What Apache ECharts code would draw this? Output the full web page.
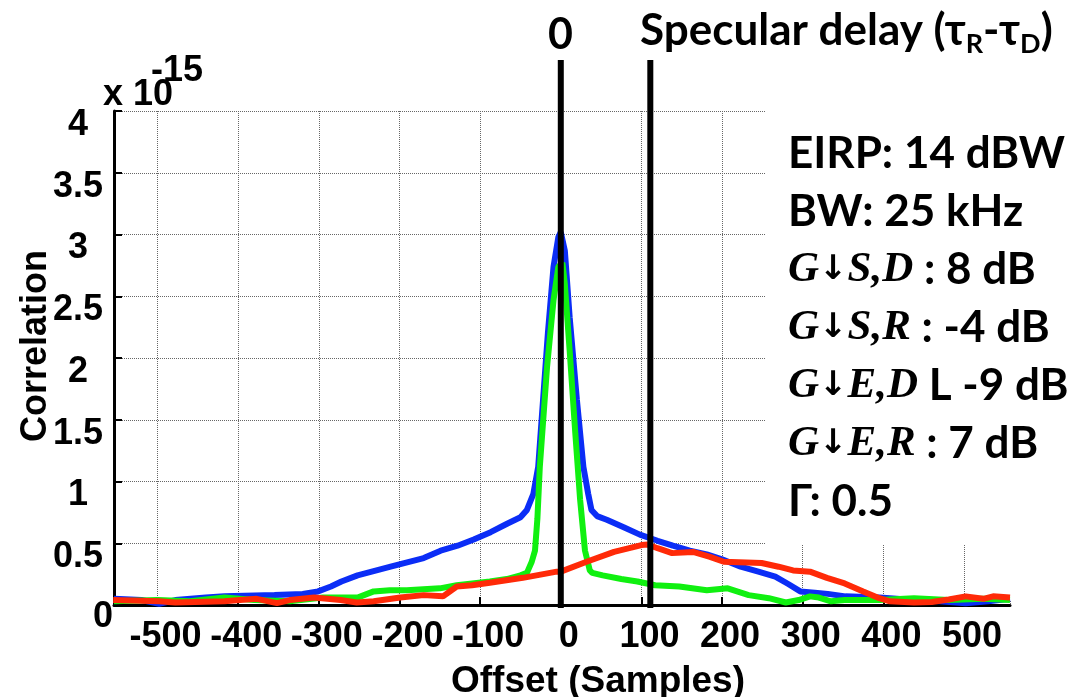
<!DOCTYPE html>
<html><head><meta charset="utf-8">
<script src="https://cdn.jsdelivr.net/npm/echarts@6/dist/echarts.min.js"></script>
<style>html,body{margin:0;padding:0;background:#fff}#c{width:1073px;height:697px}</style>
</head><body><div id="c"></div>
<script>
// ---- data (offset in samples, correlation x 1e-15) ----
const blueX = [-554,-520,-498,-478,-440,-417,-355,-320,-301,-285,-272,-252,-211,-170,-149,-128,-108,-87,-66,-50,-42,-34,-28,-22,-16,-9,-3,0,5,11,20,28,34,38,45,57,78,98,120,139,160,181,200,223,245,266,282,297,315,331,353,395,438,470,502,530,557];
const blueY = [0.05,0.04,0.01,0.04,0.06,0.07,0.08,0.09,0.11,0.15,0.19,0.24,0.31,0.38,0.44,0.48,0.53,0.59,0.66,0.71,0.77,0.90,1.12,1.66,2.20,2.74,2.98,3.02,2.87,2.33,1.66,1.12,0.90,0.77,0.72,0.69,0.63,0.57,0.52,0.48,0.44,0.41,0.37,0.31,0.27,0.23,0.17,0.11,0.10,0.09,0.07,0.06,0.04,0.03,0.015,0.03,0.05];
const greenX = [-554,-500,-460,-417,-380,-336,-295,-252,-232,-212,-191,-150,-129,-88,-67,-50,-42,-36,-32,-29,-26,-17,-9,-3,2,5,11,18,24,30,36,39,52,75,95,117,147,181,207,233,258,279,295,309,320,335,352,395,438,481,524,557];
const greenY = [0.03,0.04,0.03,0.06,0.04,0.03,0.06,0.06,0.11,0.12,0.12,0.135,0.16,0.19,0.21,0.24,0.26,0.35,0.44,0.70,1.12,1.93,2.47,2.74,2.77,2.60,2.06,1.39,0.85,0.44,0.28,0.26,0.24,0.21,0.19,0.16,0.15,0.12,0.135,0.08,0.055,0.02,0.04,0.07,0.06,0.03,0.04,0.04,0.055,0.04,0.05,0.04];
const redX = [-555,-498,-478,-417,-398,-377,-352,-336,-306,-273,-253,-232,-199,-170,-146,-129,-110,-88,-47,-5,0,32,66,100,108,120,138,164,185,202,249,270,288,309,330,352,375,395,408,438,460,481,502,524,536,557];
const redY = [0.04,0.03,0.02,0.03,0.04,0.05,0.015,0.04,0.06,0.04,0.02,0.03,0.06,0.08,0.07,0.15,0.16,0.18,0.22,0.27,0.27,0.35,0.43,0.485,0.49,0.46,0.42,0.43,0.39,0.35,0.34,0.31,0.28,0.27,0.22,0.175,0.11,0.055,0.03,0.02,0.025,0.045,0.07,0.05,0.07,0.06];
// reference delays (samples): direct path zero and specular delay
const markerX = [0, 111];
const markerText = ['0', 'Specular delay'];
const xMin = -554, xMax = 557;
const yMin = 0, yMax = 4, yStep = 0.5;
// [plain text] or [gain symbol G, subscript, value text]
const annotation = [
  ['EIRP: 14 dBW'],
  ['BW: 25 kHz'],
  ['G', 'S,D', ' : 8 dB'],
  ['G', 'S,R', ' : -4 dB'],
  ['G', 'E,D', ' L -9 dB'],
  ['G', 'E,R', ' : 7 dB'],
  ['Γ: 0.5']
];

const pairs = (xs, ys) => xs.map((x, i) => [x, ys[i]]);
const HEL = '"Liberation Sans", Arial, sans-serif';
const CAL = 'Lato, "Open Sans", sans-serif';
const MATH = '"Liberation Serif", "DejaVu Serif", serif';

const chart = echarts.init(document.getElementById('c'), null, {renderer: 'canvas'});

const curve = (name, xs, ys, color) => ({
  name, type: 'line', data: pairs(xs, ys), showSymbol: false, symbol: 'none',
  lineStyle: {color, width: 6}, itemStyle: {color}, z: 3
});

const annText = annotation.map(p => p.length === 1 ? '{t|' + p[0] + '}' :
  '{g|' + p[0] + '}{a|↓}{g|' + p[1] + '}{t|' + p[2] + '}').join('\n');

const option = {
  animation: false,
  backgroundColor: '#fff',
  grid: [
    {left: 114, right: 63, top: 111, bottom: 92, show: false, containLabel: false, outerBoundsMode: 'none'},
    {left: 114, right: 63, top: 60, bottom: 89, show: false, containLabel: false, outerBoundsMode: 'none'}
  ],
  xAxis: [{
    type: 'value', min: xMin, max: xMax, splitNumber: 11, gridIndex: 0,
    axisLine: {show: true, onZero: false, lineStyle: {color: '#000', width: 3}},
    axisTick: {show: true, inside: true, length: 8, lineStyle: {color: '#000', width: 2}},
    splitLine: {show: true, lineStyle: {type: 'dotted', color: '#666', width: 1}},
    axisLabel: {showMinLabel: false, showMaxLabel: false, color: '#000', fontFamily: HEL, fontWeight: 'bold', fontSize: 36, margin: 14, padding: [0, 0, 0, 16]},
    name: 'Offset (Samples)', nameLocation: 'middle', nameGap: 58, nameMoveOverlap: false,
    nameTextStyle: {color: '#000', fontFamily: HEL, fontWeight: 'bold', fontSize: 37, padding: [0, 0, 0, 72]}
  }, {
    type: 'value', min: xMin, max: xMax, gridIndex: 1, show: false
  }],
  yAxis: [{
    type: 'value', min: yMin, max: yMax, interval: yStep, gridIndex: 0,
    axisLine: {show: true, onZero: false, lineStyle: {color: '#000', width: 3}},
    axisTick: {show: true, inside: true, length: 8, lineStyle: {color: '#000', width: 2}},
    splitLine: {show: true, lineStyle: {type: 'dotted', color: '#666', width: 1}},
    axisLabel: {
      align: 'center', margin: 36,
      formatter: v => v === 0 ? '{z|0}' : '{n|' + v + '}',
      rich: {
        n: {color: '#000', fontFamily: HEL, fontWeight: 'bold', fontSize: 36, padding: [28, 0, 0, 0]},
        z: {color: '#000', fontFamily: HEL, fontWeight: 'bold', fontSize: 36, padding: [24, 0, 0, 50]}
      }
    },
    name: 'Correlation', nameLocation: 'middle', nameGap: 60, nameRotate: 90, nameMoveOverlap: false,
    nameTextStyle: {color: '#000', fontFamily: HEL, fontWeight: 'bold', fontSize: 36, padding: [0, 0, 0, 24]}
  }, {
    type: 'value', min: 0, max: 1, gridIndex: 1, show: false
  }],
  series: [
    curve('blue', blueX, blueY, '#0b2df6'),
    curve('green', greenX, greenY, '#10f010'),
    curve('red', redX, redY, '#ff2a08'),
    ...markerX.map((mx, i) => ({
      name: markerText[i], type: 'line', xAxisIndex: 1, yAxisIndex: 1,
      data: [[mx, 0], [mx, 1]], showSymbol: false, symbol: 'none',
      lineStyle: {color: '#000', width: 6}, z: 10, silent: true
    }))
  ],
  graphic: {elements: [
    {type: 'rect', z: 1, shape: {x: 765, y: 96, width: 308, height: 449}, style: {fill: '#fff'}},
    {type: 'rect', z: 1, shape: {x: 1007, y: 96, width: 66, height: 505}, style: {fill: '#fff'}},
    {type: 'text', z: 20, left: 103, top: 77, style: {text: 'x 10', fill: '#000', font: 'bold 36px ' + HEL}},
    {type: 'text', z: 20, left: 151, top: 53, style: {text: '-15', fill: '#000', font: 'bold 36px ' + HEL}},
    {type: 'text', z: 20, left: 548, top: 14, style: {text: '0', fill: '#000', font: 'bold 43px ' + CAL}},
    {type: 'text', z: 20, left: 640, top: 9, style: {
      text: '{m|Specular delay (τ}{s|R}{m|-τ}{s|D}{m|)}',
      rich: {
        m: {fill: '#000', fontFamily: CAL, fontWeight: 'bold', fontSize: 44, lineHeight: 54},
        s: {fill: '#000', fontFamily: CAL, fontWeight: 'bold', fontSize: 27, lineHeight: 54, verticalAlign: 'bottom'}
      }
    }},
    {type: 'text', z: 20, left: 788, top: 132, style: {
      text: annText,
      rich: {
        t: {fill: '#000', fontFamily: CAL, fontWeight: 'bold', fontSize: 44, lineHeight: 58},
        g: {fill: '#000', fontFamily: MATH, fontWeight: 'bold', fontStyle: 'italic', fontSize: 43, lineHeight: 58},
        a: {fill: '#000', fontFamily: '"DejaVu Sans", sans-serif', fontWeight: 'bold', fontSize: 34, lineHeight: 58}
      }
    }}
  ]}
};
chart.setOption(option);
</script>
</body></html>
